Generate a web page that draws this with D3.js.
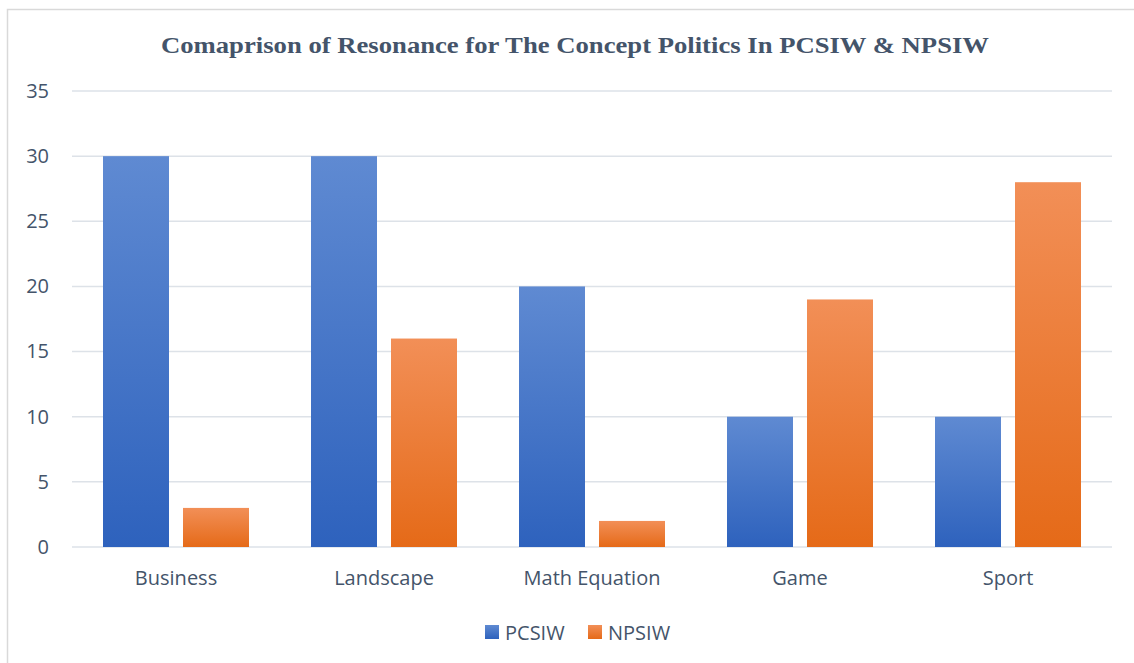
<!DOCTYPE html>
<html>
<head>
<meta charset="utf-8">
<script src="https://cdn.jsdelivr.net/npm/d3@7"></script>
<style>
  body { margin: 0; background: #fff; }
  svg { display: block; }
</style>
</head>
<body>
<div id="plot"></div>
<script>
var categories = ["Business", "Landscape", "Math Equation", "Game", "Sport"];
var seriesNames = ["PCSIW", "NPSIW"];
var pcsiw = [30, 30, 20, 10, 10];
var npsiw = [3, 16, 2, 19, 28];
var yTicks = [0, 5, 10, 15, 20, 25, 30, 35];

var width = 1134, height = 663;
var plotLeft = 72, plotRight = 1112, plotTop = 91, plotBottom = 547;
var labelFont = "Open Sans, Liberation Sans, sans-serif";
var textColor = "#44546A";

var svg = d3.select("#plot").append("svg")
  .attr("width", width).attr("height", height);

var defs = svg.append("defs");
var grads = [["gBlue", "#5F8AD2", "#2E62BD"], ["gOrange", "#F28F57", "#E56A18"]];
grads.forEach(function(g) {
  var lg = defs.append("linearGradient").attr("id", g[0])
    .attr("x1", 0).attr("y1", 0).attr("x2", 0).attr("y2", 1);
  lg.append("stop").attr("offset", "0%").attr("stop-color", g[1]);
  lg.append("stop").attr("offset", "100%").attr("stop-color", g[2]);
});

// chart border
svg.append("rect").attr("x", 7.5).attr("y", 9.5)
  .attr("width", 1140).attr("height", 670)
  .attr("fill", "none").attr("stroke", "#D9D9D9").attr("stroke-width", 1.5);

var x0 = d3.scaleBand().domain(categories).range([plotLeft, plotRight]).padding(0);
var bw = x0.bandwidth();
var x1 = d3.scaleBand().domain(seriesNames)
  .range([31, bw - 31]).paddingInner(0.175);
var y = d3.scaleLinear().domain([0, 35]).range([plotBottom, plotTop]);

// grid
svg.append("g").selectAll("line").data(yTicks).enter().append("line")
  .attr("x1", plotLeft).attr("x2", plotRight)
  .attr("y1", function(d) { return y(d); })
  .attr("y2", function(d) { return y(d); })
  .attr("stroke", "#DDE2E8").attr("stroke-width", 1.5);

// y labels
var yaxis = d3.axisLeft(y).tickValues(yTicks).tickSize(0).tickPadding(0);
var ya = svg.append("g").attr("transform", "translate(49,0)").call(yaxis);
ya.select(".domain").remove();
ya.selectAll("text")
  .attr("font-size", "20px").attr("font-family", labelFont)
  .attr("fill", textColor).attr("text-anchor", "end");

// bars
var data = categories.map(function(c, i) {
  return { cat: c, vals: [{ s: "PCSIW", v: pcsiw[i] }, { s: "NPSIW", v: npsiw[i] }] };
});

var groups = svg.selectAll(".grp").data(data).enter().append("g")
  .attr("class", "grp")
  .attr("transform", function(d) { return "translate(" + x0(d.cat) + ",0)"; });

groups.selectAll("rect").data(function(d) { return d.vals; }).enter().append("rect")
  .attr("x", function(d) { return x1(d.s); })
  .attr("width", x1.bandwidth())
  .attr("y", function(d) { return y(d.v); })
  .attr("height", function(d) { return y(0) - y(d.v); })
  .attr("fill", function(d) { return d.s == "PCSIW" ? "url(#gBlue)" : "url(#gOrange)"; });

// x labels
var xaxis = d3.axisBottom(x0).tickSize(0).tickPadding(0);
var xa = svg.append("g").attr("transform", "translate(0,571)").call(xaxis);
xa.select(".domain").remove();
xa.selectAll("text")
  .attr("font-size", "20px").attr("font-family", labelFont)
  .attr("fill", textColor);

// title
svg.append("text").attr("x", 575).attr("y", 53)
  .attr("text-anchor", "middle")
  .attr("font-family", "Liberation Serif, Times New Roman, serif")
  .attr("font-weight", "bold").attr("font-size", "23px")
  .attr("textLength", 828).attr("lengthAdjust", "spacingAndGlyphs")
  .attr("fill", textColor)
  .text("Comaprison of Resonance for The Concept Politics In PCSIW & NPSIW");

// legend
var legX = [485, 588];
var leg = svg.selectAll(".leg").data(seriesNames).enter().append("g")
  .attr("class", "leg")
  .attr("transform", function(d, i) { return "translate(" + legX[i] + ",625)"; });
leg.append("rect").attr("width", 14).attr("height", 14)
  .attr("fill", function(d, i) { return i == 0 ? "url(#gBlue)" : "url(#gOrange)"; });
leg.append("text").attr("x", 20).attr("y", 14.5)
  .attr("font-size", "20px").attr("font-family", labelFont)
  .attr("fill", textColor)
  .text(function(d) { return d; });
</script>
</body>
</html>
